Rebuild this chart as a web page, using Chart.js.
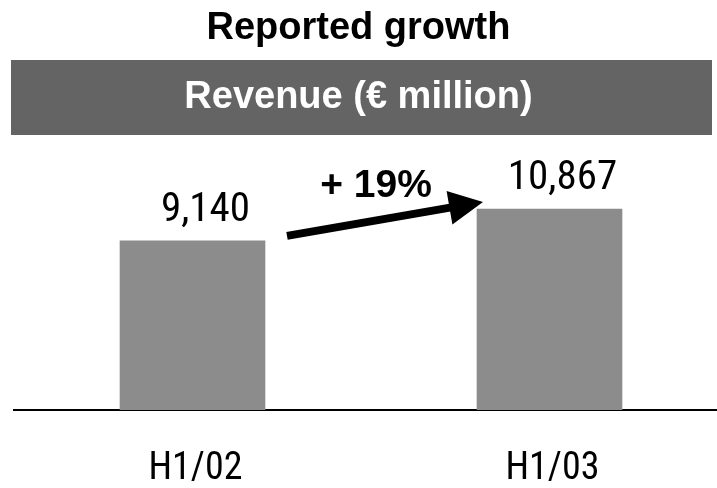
<!DOCTYPE html>
<html>
<head>
<meta charset="utf-8">
<script src="https://cdn.jsdelivr.net/npm/chart.js@4"></script>
<style>
  html, body { margin: 0; padding: 0; background: #fff; }
  #c { display: block; }
</style>
</head>
<body>
<canvas id="c" width="717" height="488"></canvas>
<script>
const categories = ['H1/02', 'H1/03'];
const revenue = [9140, 10867];
const chartTitle = 'Reported growth';
const bandTitle = 'Revenue (€ million)';

const FONT = "'Roboto Condensed', 'DejaVu Sans Condensed', sans-serif";
const HEAD_FONT = "'Liberation Sans', Arial, sans-serif";

function fmt(v) { return v.toLocaleString('en-US'); }

const decor = {
  id: 'decor',
  afterLayout(chart) {
    // category band of 357px per period, axis running to the right edge
    const x = chart.scales.x;
    x.right = x.left + 714;
    x.width = 714;
    x.configure();
  },
  beforeDraw(chart) {
    const ctx = chart.ctx;
    ctx.save();
    ctx.fillStyle = '#646464';
    ctx.fillRect(11, 60, chart.width - 16, 75);
    ctx.restore();
  },
  afterDatasetsDraw(chart) {
    const ctx = chart.ctx;
    const bars = chart.getDatasetMeta(0).data;
    ctx.save();
    ctx.fillStyle = '#000';
    ctx.font = "41px " + FONT;
    ctx.textAlign = 'center';
    ctx.textBaseline = 'alphabetic';
    bars.forEach((b, i) => {
      ctx.fillText(fmt(revenue[i]), b.x + 13, b.y - 20);
    });
    const b0 = bars[0], b1 = bars[1];
    const sx = b0.x + b0.width / 2 + 22, sy = b0.y - 5;
    const tx = b1.x - b1.width / 2 + 6, ty = b1.y - 7;
    const ang = Math.atan2(ty - sy, tx - sx);
    const headLen = 34, headHalf = 17;
    const bx = tx - headLen * Math.cos(ang), by = ty - headLen * Math.sin(ang);
    ctx.strokeStyle = '#000';
    ctx.lineWidth = 8;
    ctx.lineCap = 'butt';
    ctx.beginPath();
    ctx.moveTo(sx, sy);
    ctx.lineTo(bx + 2 * Math.cos(ang), by + 2 * Math.sin(ang));
    ctx.stroke();
    ctx.beginPath();
    ctx.moveTo(tx, ty);
    ctx.lineTo(bx - headHalf * Math.sin(ang), by + headHalf * Math.cos(ang));
    ctx.lineTo(bx + headHalf * Math.sin(ang), by - headHalf * Math.cos(ang));
    ctx.closePath();
    ctx.fill();
    const g = Math.round((revenue[1] / revenue[0] - 1) * 100);
    ctx.font = "bold 39px " + HEAD_FONT;
    ctx.textAlign = 'center';
    ctx.fillText('+ ' + g + '%', (sx + tx) / 2 - 9, (sy + ty) / 2 - 22);
    ctx.restore();
  }
};

new Chart(document.getElementById('c'), {
  type: 'bar',
  data: {
    labels: categories,
    datasets: [{
      data: revenue,
      backgroundColor: '#8c8c8c',
      borderWidth: 0,
      barThickness: 145
    }]
  },
  options: {
    responsive: false,
    animation: false,
    devicePixelRatio: 1,
    layout: { padding: { left: 0, right: 0, top: 0, bottom: 0 } },
    plugins: {
      legend: { display: false },
      tooltip: { enabled: false },
      title: {
        display: true,
        text: chartTitle,
        color: '#000',
        font: { family: HEAD_FONT, size: 38, weight: 'bold', lineHeight: 1.2 },
        padding: { top: 6.2, bottom: 0 }
      },
      subtitle: {
        display: true,
        text: bandTitle,
        color: '#fff',
        font: { family: HEAD_FONT, size: 38, weight: 'bold', lineHeight: 1.2 },
        padding: { top: 23.4, bottom: 30.2 }
      }
    },
    scales: {
      y: {
        display: true,
        min: 0,
        max: 14000,
        ticks: { display: false },
        grid: { display: false, drawTicks: false },
        border: { display: false },
        afterFit(scale) { scale.width = 14; }
      },
      x: {
        offset: true,
        grid: { display: false, drawTicks: false },
        border: { display: true, color: '#000', width: 2 },
        ticks: {
          color: '#000',
          padding: 36.2,
          labelOffset: 3,
          font: { family: FONT, size: 38, lineHeight: 1.2 }
        },
        afterFit(scale) { scale.height = 78; }
      }
    }
  },
  plugins: [decor]
});
</script>
</body>
</html>
